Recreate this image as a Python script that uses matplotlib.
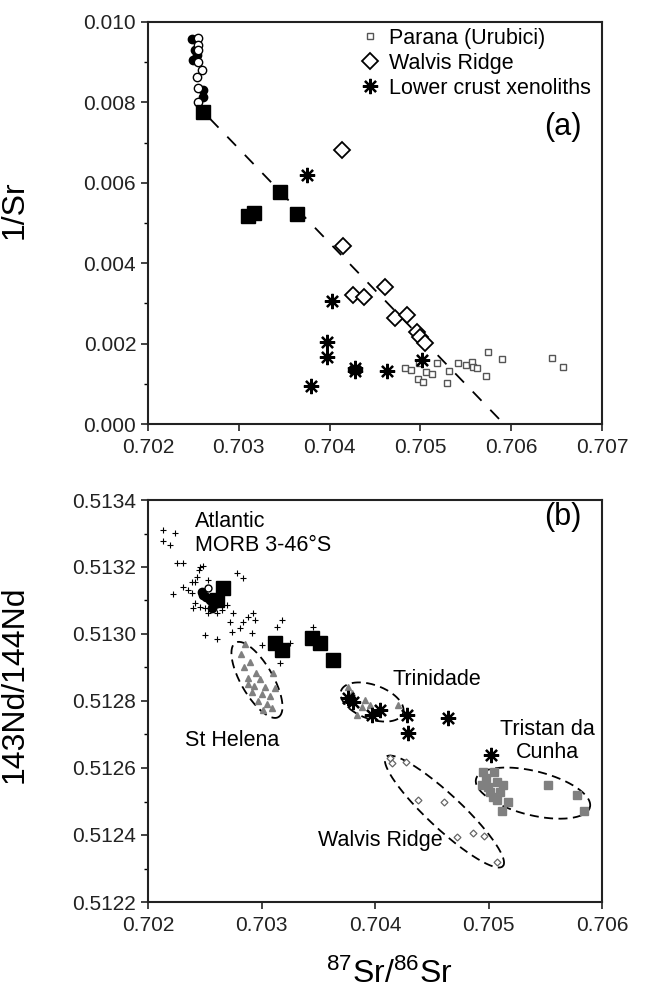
import numpy as np
import matplotlib
matplotlib.use("Agg")
import matplotlib.pyplot as plt
from matplotlib.ticker import MultipleLocator, FormatStrFormatter

plt.rcParams['font.family'] = ['Liberation Sans', 'DejaVu Sans']

# ---------------- panel (a): 87Sr/86Sr vs 1/Sr ----------------
a_circ_fill_x = [0.702481, 0.702518, 0.702536, 0.702499, 0.702609, 0.702609]
a_circ_fill_y = [0.00957, 0.00930, 0.00918, 0.00905, 0.00831, 0.00814]
a_circ_open_x = [0.702554, 0.702554, 0.702554, 0.702554, 0.702591, 0.702536, 0.702554, 0.702554]
a_circ_open_y = [0.00959, 0.00943, 0.00930, 0.00901, 0.00881, 0.00864, 0.00835, 0.00802]

a_sq_x = [0.702602, 0.703454, 0.703105, 0.703167, 0.703637]
a_sq_y = [0.00777, 0.00576, 0.00517, 0.00524, 0.00522]

parana_x = [0.704830, 0.704893, 0.704970, 0.705025, 0.705062, 0.705124, 0.704988,
            0.705186, 0.705290, 0.705319, 0.705418, 0.705502, 0.705565, 0.705583,
            0.705620, 0.705722, 0.705748, 0.705895, 0.706453, 0.706574]
parana_y = [0.00140, 0.00134, 0.00112, 0.00105, 0.00129, 0.00124, 0.00151,
            0.00151, 0.00101, 0.00132, 0.00151, 0.00147, 0.00153, 0.00143,
            0.00140, 0.00119, 0.00180, 0.00162, 0.00165, 0.00143]

walvis_a_x = [0.704133, 0.704151, 0.704260, 0.704378, 0.704610, 0.704720,
              0.704849, 0.704958, 0.704996, 0.705051]
walvis_a_y = [0.00682, 0.00444, 0.00321, 0.00315, 0.00342, 0.00263,
              0.00271, 0.00230, 0.00217, 0.00201]

xeno_a_x = [0.703748, 0.704023, 0.703967, 0.703967, 0.704280, 0.704285,
            0.704636, 0.703795, 0.705014]
xeno_a_y = [0.00619, 0.00306, 0.00205, 0.00166, 0.00139, 0.00133,
            0.00133, 0.00095, 0.00159]

mix_line_x = [0.70268, 0.70592]
mix_line_y = [0.0076, 0.0]

# ---------------- panel (b): 87Sr/86Sr vs 143Nd/144Nd ----------------
morb_x = [0.702130, 0.702238, 0.702130, 0.702194, 0.702253, 0.702311, 0.702458,
          0.702487, 0.702452, 0.702782, 0.702840, 0.702429, 0.702385, 0.702531,
          0.702311, 0.702355, 0.702223, 0.702414, 0.702399, 0.702458, 0.702502,
          0.702531, 0.702605, 0.702649, 0.702693, 0.702752, 0.702722, 0.702840,
          0.702884, 0.702928, 0.702943, 0.702737, 0.702914, 0.702502, 0.702605,
          0.703134, 0.703178, 0.703251, 0.703456, 0.703002, 0.703163, 0.702811,
          0.702385, 0.702414]
morb_y = [0.513310, 0.513302, 0.513279, 0.513266, 0.513213, 0.513211, 0.513199,
          0.513203, 0.513191, 0.513181, 0.513166, 0.513171, 0.513156, 0.513161,
          0.513141, 0.513131, 0.513119, 0.513092, 0.513077, 0.513081, 0.513077,
          0.513062, 0.513062, 0.513072, 0.513087, 0.513064, 0.513037, 0.513037,
          0.513052, 0.513062, 0.513042, 0.513007, 0.513002, 0.512997, 0.512984,
          0.513022, 0.513042, 0.512972, 0.513020, 0.512967, 0.512914, 0.513017,
          0.513121, 0.513156]

b_circ_fill_x = [0.702473, 0.702487, 0.702546, 0.702575, 0.702561, 0.702605, 0.702511]
b_circ_fill_y = [0.513126, 0.513116, 0.513101, 0.513087, 0.513077, 0.513092, 0.513110]
b_circ_open_x = [0.702531]
b_circ_open_y = [0.513136]

b_sq_x = [0.702664, 0.702611, 0.703119, 0.703178, 0.703442, 0.703515, 0.703633]
b_sq_y = [0.513136, 0.513101, 0.512972, 0.512952, 0.512987, 0.512972, 0.512922]

helena_x = [0.702855, 0.702819, 0.702899, 0.702846, 0.702952, 0.703101, 0.702881,
            0.702987, 0.702934, 0.703031, 0.702916, 0.703004, 0.703075, 0.702969,
            0.703049, 0.703119, 0.703013, 0.703093, 0.702881]
helena_y = [0.512970, 0.512940, 0.512916, 0.512901, 0.512884, 0.512884, 0.512869,
            0.512866, 0.512845, 0.512842, 0.512827, 0.512821, 0.512815, 0.512800,
            0.512791, 0.512839, 0.512773, 0.512779, 0.512851]

trinidade_x = [0.703765, 0.703912, 0.703883, 0.703839, 0.704205, 0.703797, 0.703956]
trinidade_y = [0.512841, 0.512803, 0.512783, 0.512758, 0.512788, 0.512824, 0.512788]

xeno_b_x = [0.703765, 0.703809, 0.703971, 0.704044, 0.704279, 0.704293, 0.704646, 0.705020]
xeno_b_y = [0.512808, 0.512798, 0.512758, 0.512773, 0.512758, 0.512704, 0.512748, 0.512639]

walvis_b_x = [0.704132, 0.704147, 0.704273, 0.704382, 0.704608, 0.704720,
              0.704861, 0.704963, 0.705072]
walvis_b_y = [0.512629, 0.512614, 0.512619, 0.512504, 0.512499, 0.512393,
              0.512405, 0.512398, 0.512320]

tristan_x = [0.704954, 0.705051, 0.704940, 0.704998, 0.705072, 0.705131, 0.705101,
             0.705043, 0.705072, 0.705174, 0.705116, 0.705527, 0.705777, 0.705842,
             0.705013, 0.704978]
tristan_y = [0.512589, 0.512589, 0.512549, 0.512544, 0.512559, 0.512549, 0.512529,
             0.512514, 0.512504, 0.512499, 0.512473, 0.512549, 0.512519, 0.512472,
             0.512528, 0.512570]

# field outlines: centre, half major axis vector, half minor axis vector (data units)
field_names = ['St Helena', 'Trinidade', 'Walvis Ridge', 'Tristan da Cunha']
field_cx = [0.702960, 0.703974, 0.704612, 0.705392]
field_cy = [0.512863, 0.512797, 0.512470, 0.512525]
field_ax = [0.000189, 0.000273, 0.000515, 0.000502]
field_ay = [-0.000111, -0.0000337, -0.000163, -0.0000418]
field_bx = [0.000122, 0.0000511, 0.000102, 0.0000458]
field_by = [0.0000240, 0.0000478, 0.0000370, 0.0000639]

W, H = 654, 991
fig = plt.figure(figsize=(W / 100, H / 100), dpi=100)
ax1 = fig.add_axes([148 / W, 1 - 424 / H, 454 / W, 402 / H])
ax2 = fig.add_axes([148 / W, 1 - 902 / H, 454 / W, 402 / H])

star = (8, 2, 0)
gray = '#808080'

# ---- (a)
ax1.plot(mix_line_x, mix_line_y, color='black', lw=1.3, ls=(0, (7, 7)), zorder=1)
ax1.plot(parana_x, parana_y, 's', ms=5, mfc='white', mec='#555555', mew=1.0, ls='none',
         label='Parana (Urubici)', zorder=2)
ax1.plot(walvis_a_x, walvis_a_y, 'D', ms=8, mfc='white', mec='black', mew=1.3, ls='none',
         label='Walvis Ridge', zorder=3)
ax1.plot(xeno_a_x, xeno_a_y, marker=star, ms=11, mec='black', mew=1.6, ls='none',
         label='Lower crust xenoliths', zorder=4)
ax1.plot(a_circ_fill_x, a_circ_fill_y, 'o', ms=6, mfc='black', mec='black', ls='none', zorder=3)
ax1.plot(a_circ_open_x, a_circ_open_y, 'o', ms=6, mfc='white', mec='black', mew=1.0, ls='none', zorder=3)
ax1.plot(a_sq_x, a_sq_y, 's', ms=10, mfc='black', mec='black', ls='none', zorder=4)

ax1.set_xlim(0.702, 0.707)
ax1.set_ylim(0.0, 0.010)
ax1.xaxis.set_major_locator(MultipleLocator(0.001))
ax1.yaxis.set_major_locator(MultipleLocator(0.002))
ax1.yaxis.set_minor_locator(MultipleLocator(0.001))
ax1.xaxis.set_major_formatter(FormatStrFormatter('%.3f'))
ax1.yaxis.set_major_formatter(FormatStrFormatter('%.3f'))
ax1.set_ylabel('1/Sr', fontsize=23)
ax1.yaxis.set_label_coords(-0.26, 0.532)
ax1.text(0.914, 0.739, '(a)', transform=ax1.transAxes, fontsize=22, ha='center', va='center')
ax1.legend(loc='upper left', bbox_to_anchor=(0.465, 0.985), frameon=False, fontsize=15.5,
           handlelength=1.0, handletextpad=0.4, labelspacing=0.18, borderpad=0, borderaxespad=0)

# ---- (b)
for i in range(len(field_names)):
    t = np.linspace(0, 2 * np.pi, 200)
    ex = field_cx[i] + np.cos(t) * field_ax[i] + np.sin(t) * field_bx[i]
    ey = field_cy[i] + np.cos(t) * field_ay[i] + np.sin(t) * field_by[i]
    ax2.plot(ex, ey, color='black', lw=1.3, ls=(0, (5, 3)), zorder=1)

ax2.plot(morb_x, morb_y, '+', ms=5, mec='black', mew=0.8, ls='none', zorder=2)
ax2.plot(helena_x, helena_y, '^', ms=5, mfc=gray, mec=gray, ls='none', zorder=2)
ax2.plot(trinidade_x, trinidade_y, '^', ms=5, mfc=gray, mec=gray, ls='none', zorder=2)
ax2.plot(tristan_x, tristan_y, 's', ms=5.5, mfc=gray, mec=gray, ls='none', zorder=2)
ax2.plot(walvis_b_x, walvis_b_y, 'D', ms=3.5, mfc='white', mec='#666666', mew=0.9, ls='none', zorder=2)
ax2.plot(xeno_b_x, xeno_b_y, marker=star, ms=11, mec='black', mew=1.6, ls='none', zorder=4)
ax2.plot(b_circ_fill_x, b_circ_fill_y, 'o', ms=6, mfc='black', mec='black', ls='none', zorder=3)
ax2.plot(b_sq_x, b_sq_y, 's', ms=10, mfc='black', mec='black', ls='none', zorder=4)
ax2.plot(b_circ_open_x, b_circ_open_y, 'o', ms=5, mfc='white', mec='black', mew=1.0, ls='none', zorder=5)

ax2.set_xlim(0.702, 0.706)
ax2.set_ylim(0.5122, 0.5134)
ax2.xaxis.set_major_locator(MultipleLocator(0.001))
ax2.yaxis.set_major_locator(MultipleLocator(0.0002))
ax2.yaxis.set_minor_locator(MultipleLocator(0.0001))
ax2.xaxis.set_major_formatter(FormatStrFormatter('%.3f'))
ax2.yaxis.set_major_formatter(FormatStrFormatter('%.4f'))
ax2.set_ylabel('143Nd/144Nd', fontsize=23)
ax2.yaxis.set_label_coords(-0.26, 0.542)
ax2.set_xlabel(r'$\mathregular{^{87}Sr/^{86}Sr}$', fontsize=23)
ax2.xaxis.set_label_coords(0.531, -0.142)
ax2.text(0.914, 0.958, '(b)', transform=ax2.transAxes, fontsize=22, ha='center', va='center')

ax2.text(0.702414, 0.513300, 'Atlantic\nMORB 3-46°S', fontsize=15.5, ha='left', va='center',
         linespacing=1.15)
ax2.text(0.702740, 0.512681, 'St Helena', fontsize=15.5, ha='center', va='center')
ax2.text(0.704546, 0.512863, 'Trinidade', fontsize=15.5, ha='center', va='center')
ax2.text(0.705516, 0.512681, 'Tristan da\nCunha', fontsize=15.5, ha='center', va='center',
         linespacing=1.15)
ax2.text(0.704049, 0.512385, 'Walvis Ridge', fontsize=15.5, ha='center', va='center')

for ax in (ax1, ax2):
    for sp in ax.spines.values():
        sp.set_linewidth(1.5)
        sp.set_color('#222222')
    ax.tick_params(which='major', direction='out', length=5, width=1.2, labelsize=15, colors='#222222')
    ax.tick_params(which='minor', direction='out', length=3, width=1.0)
    ax.tick_params(axis='x', pad=5)

fig.savefig('out.png', dpi=100)
